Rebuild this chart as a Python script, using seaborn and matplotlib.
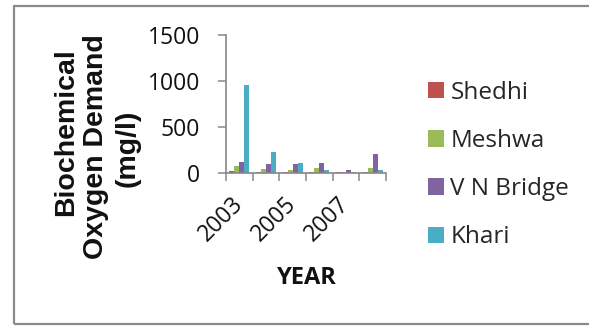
import matplotlib
matplotlib.use("Agg")
import matplotlib.pyplot as plt
import seaborn as sns
import pandas as pd
import numpy as np
from matplotlib.patches import Rectangle

# Biochemical Oxygen Demand (mg/l) per sampling station and year
years = [2003, 2004, 2005, 2006, 2007, 2008]
shedhi = [18, 3, 3, 3, 3, 8]
meshwa = [76, 42, 33, 51, 12, 51]
vn_bridge = [122, 92, 100, 110, 25, 203]
khari = [960, 228, 103, 24, 12, 30]
stations = ["Shedhi", "Meshwa", "V N Bridge", "Khari"]
colors = ["#C0504D", "#9BBB59", "#8064A2", "#4BACC6"]
tick_years = [2003, 2005, 2007]
y_ticks = [0, 500, 1000, 1500]

df = pd.DataFrame({
    "YEAR": years * 4,
    "BOD": shedhi + meshwa + vn_bridge + khari,
    "Station": [s for s in stations for _ in years],
})

sns.set_theme(style="white")
plt.rcParams["font.family"] = ["Open Sans", "DejaVu Sans"]

W, H = 589, 327
fig = plt.figure(figsize=(W / 100, H / 100), dpi=100)
fig.patch.set_facecolor("white")

# plot area in pixel units
left, right, top, bottom = 226, 386, 35, 172.7
ax = fig.add_axes([left / W, 1 - bottom / H, (right - left) / W, (bottom - top) / H])

sns.barplot(data=df, x="YEAR", y="BOD", hue="Station", hue_order=stations,
            palette=colors, width=0.75, gap=0, saturation=1, linewidth=0, ax=ax)

ax.set_ylim(0, 1500)
ax.set_xlim(-0.5, len(years) - 0.5)
ax.set_yticks(y_ticks)
ax.set_yticklabels([str(v) for v in y_ticks], fontsize=16.5, color="#111111")
ax.set_xticks([years.index(y) for y in tick_years])
ax.set_xticklabels([str(y) for y in tick_years], rotation=45, ha="right",
                   rotation_mode="anchor", va="center", fontsize=16.5, color="#111111")
ax.set_xticks(np.arange(-0.5, len(years)), minor=True)

grey = "#888888"
for side in ["top", "right"]:
    ax.spines[side].set_visible(False)
for side in ["left", "bottom"]:
    ax.spines[side].set_color(grey)
    ax.spines[side].set_linewidth(1.2)

ax.tick_params(axis="y", which="major", direction="out", length=5.8, width=1.1,
               color=grey, pad=13, left=True)
ax.tick_params(axis="x", which="major", length=0, pad=20)
ax.tick_params(axis="x", which="minor", direction="out", length=5.8, width=1.1,
               color=grey, bottom=True)
ax.set_xlabel("")
ax.set_ylabel("")

# legend on the right
handles, labels = ax.get_legend_handles_labels()
ax.get_legend().remove()
fig.legend(handles, labels, loc="center left",
           bbox_to_anchor=(428 / W, 1 - 165 / H), frameon=False,
           fontsize=17.5, handlelength=0.66, handleheight=0.66,
           handletextpad=0.26, labelspacing=1.0, borderpad=0, borderaxespad=0)

# axis titles
ylab_font = dict(family=["Liberation Sans", "DejaVu Sans"], fontweight="bold",
                 fontsize=20.5, rotation=90, ha="center", va="center", color="#111111")
fig.text(66 / W, 1 - 132 / H, "Biochemical", **ylab_font)
fig.text(96 / W, 1 - 147 / H, "Oxygen Demand", **ylab_font)
fig.text(128 / W, 1 - 148 / H, "(mg/l)", **ylab_font)
fig.text(307 / W, 1 - 278 / H, "YEAR", fontsize=17, fontweight="bold",
         ha="center", va="center", color="#111111")

# chart frame
fig.patches.append(Rectangle((13.5 / W, 1 - 324 / H), (W - 13.5 + 20) / W,
                             (324 - 5.5) / H, transform=fig.transFigure,
                             fill=False, edgecolor="#8a8a8a", linewidth=1.6,
                             clip_on=False))

fig.savefig("out.png", dpi=100)
